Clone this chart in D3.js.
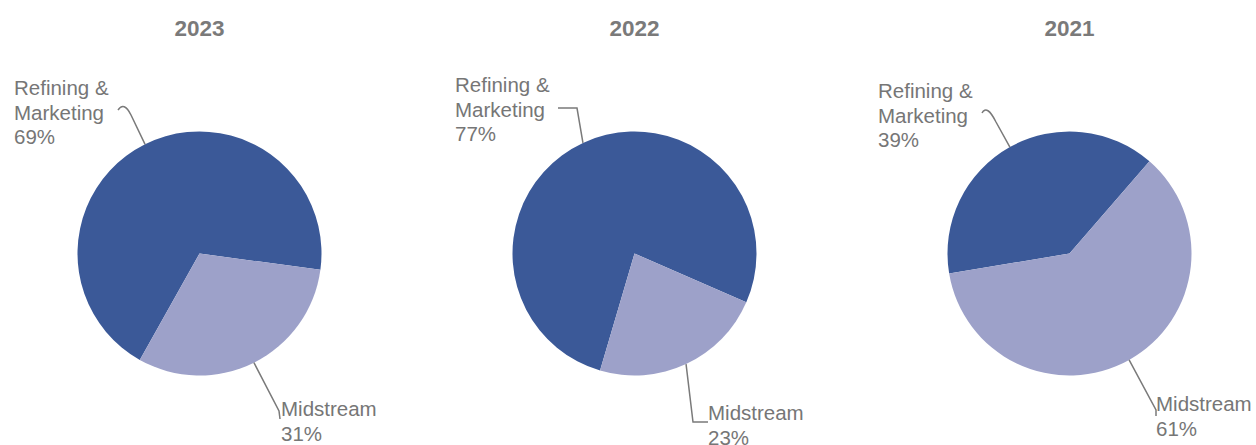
<!DOCTYPE html>
<html>
<head>
<meta charset="utf-8">
<script src="https://cdn.jsdelivr.net/npm/d3@7"></script>
<style>
  html, body { margin: 0; padding: 0; background: #fff; }
  svg { display: block; font-family: "Liberation Sans", Arial, sans-serif; }
</style>
</head>
<body>
<svg id="canvas"></svg>
<script>
"use strict";

// data
const years = ["2023", "2022", "2021"];
const segments = ["Refining & Marketing", "Midstream"];
const refiningShare = [69, 77, 39];
const midstreamShare = [31, 23, 61];

const width = 1256;
const height = 445;
const radius = 122;
const centerY = 253.5;

const colors = ["#3b5998", "#9da1c9"];
const textColor = "#767676";
const lineColor = "#7a7a7a";

// layout of each pie: angle where the Midstream slice is centered, label spots, leader paths
const midstreamMidAngle = [153.5, 155, 150.75];
const labelLayout = [
  {
    rm: { x: 14, y: 95 },
    ms: { x: 281, y: 416 },
    rmLeader: (p, e) => { p.moveTo(e[0], e[1]); p.lineTo(131, 115); p.quadraticCurveTo(124, 101, 118, 110); },
    msLeader: (p, e) => { p.moveTo(e[0], e[1]); p.lineTo(279, 411); p.lineTo(280, 419); },
  },
  {
    rm: { x: 455, y: 92 },
    ms: { x: 708, y: 420 },
    rmLeader: (p, e) => { p.moveTo(e[0], e[1]); p.lineTo(577, 108); p.lineTo(558, 108); },
    msLeader: (p, e) => { p.moveTo(e[0], e[1]); p.lineTo(693, 422); p.lineTo(708, 422); },
  },
  {
    rm: { x: 878, y: 98 },
    ms: { x: 1156, y: 411 },
    rmLeader: (p, e) => { p.moveTo(e[0], e[1]); p.lineTo(996, 122); p.quadraticCurveTo(987, 104, 982, 113); },
    msLeader: (p, e) => { p.moveTo(e[0], e[1]); p.lineTo(1156, 410); p.lineTo(1156, 416); },
  },
];

const canvas = d3.select("#canvas").attr("width", width).attr("height", height);

const xScale = d3.scalePoint().domain(years).range([199.5, 1069.5]);

const arc = d3.arc().innerRadius(0).outerRadius(radius);
const edgeArc = d3.arc().innerRadius(radius).outerRadius(radius);

const rad = (deg) => (deg * Math.PI) / 180;

years.forEach((year, i) => {
  const cx = xScale(year);
  const values = [refiningShare[i], midstreamShare[i]];
  const msSpan = (360 * midstreamShare[i]) / 100;
  const start = midstreamMidAngle[i] + msSpan / 2;

  const pie = d3
    .pie()
    .sort(null)
    .value((d) => d)
    .startAngle(rad(start))
    .endAngle(rad(start + 360));

  const arcs = pie(values);

  // title
  canvas
    .append("text")
    .attr("x", cx)
    .attr("y", 36)
    .attr("text-anchor", "middle")
    .attr("font-size", 22.5)
    .attr("font-weight", "bold")
    .attr("fill", "#7a7a7a")
    .text(year);

  const g = canvas.append("g").attr("transform", `translate(${cx},${centerY})`);

  g.selectAll("path")
    .data(arcs)
    .enter()
    .append("path")
    .attr("d", arc)
    .attr("fill", (d, j) => colors[j]);

  // leader lines from slice middle on the edge
  const lay = labelLayout[i];
  const edgePoint = (a) => {
    const c = d3.arc().innerRadius(radius).outerRadius(radius).centroid(a);
    return [c[0] + cx, c[1] + centerY];
  };

  const leaders = [lay.rmLeader, lay.msLeader];
  arcs.forEach((a, j) => {
    const p = d3.path();
    leaders[j](p, edgePoint(a));
    canvas
      .append("path")
      .attr("d", p.toString())
      .attr("fill", "none")
      .attr("stroke", lineColor)
      .attr("stroke-width", 1.5);
  });

  // labels
  const rmLines = ["Refining &", "Marketing", refiningShare[i] + "%"];
  const rmText = canvas
    .append("text")
    .attr("x", lay.rm.x)
    .attr("y", lay.rm.y)
    .attr("font-size", 20.5)
    .attr("fill", textColor);
  rmLines.forEach((t, k) => {
    rmText.append("tspan").attr("x", lay.rm.x).attr("dy", k === 0 ? 0 : 24.5).text(t);
  });

  const msLines = [segments[1], midstreamShare[i] + "%"];
  const msText = canvas
    .append("text")
    .attr("x", lay.ms.x)
    .attr("y", lay.ms.y)
    .attr("font-size", 20.5)
    .attr("fill", textColor);
  msLines.forEach((t, k) => {
    msText.append("tspan").attr("x", lay.ms.x).attr("dy", k === 0 ? 0 : 24.5).text(t);
  });
});
</script>
</body>
</html>
